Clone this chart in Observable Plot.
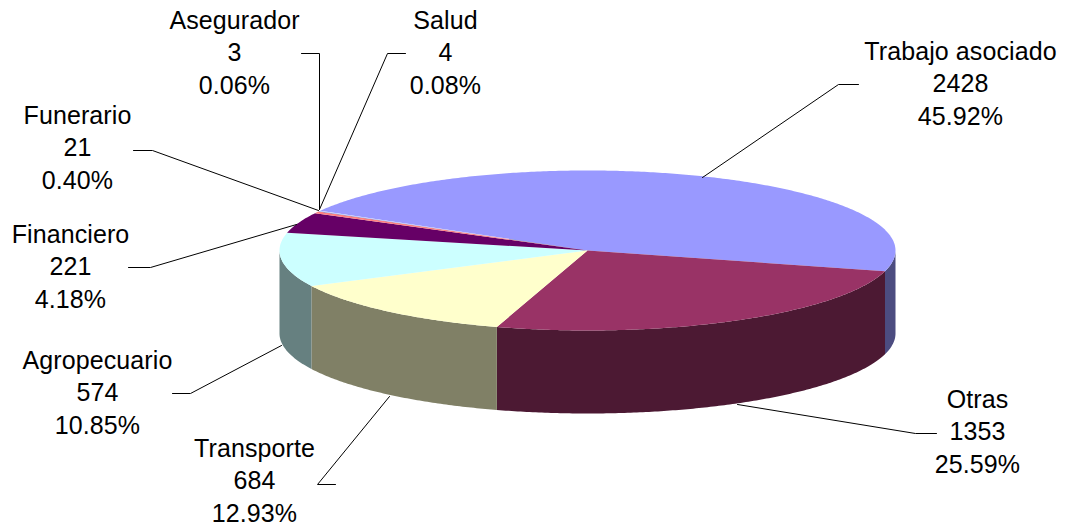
<!DOCTYPE html>
<html>
<head>
<meta charset="utf-8">
<script src="https://cdn.jsdelivr.net/npm/d3@7"></script>
<script src="https://cdn.jsdelivr.net/npm/@observablehq/plot@0.6"></script>
<style>
html,body{margin:0;padding:0;background:#fff}
svg{display:block}
svg text{letter-spacing:0.1px}
</style>
</head>
<body>
<div id="chart"></div>
<script>
const categories = ["Trabajo asociado","Otras","Transporte","Agropecuario","Financiero","Funerario","Asegurador","Salud"];
const values = [2428,1353,684,574,221,21,3,4];
const topColors = ["#9999FF","#993366","#FFFFCC","#CCFFFF","#660066","#FF8080","#0066CC","#CCCCFF"];
const sideColors = ["#4C4C80","#4C1933","#808066","#668080","#330033","#804040","#003366","#666680"];

// layout, in page units
const W = 1067, H = 527;
const cx = 587, cy = 250, rx = 308, ry = 80, depth = 83;
const firstEnd = 15 * Math.PI / 180; // clockwise end of the first slice
const labelX = [960,977,254,97,70,77,234,445];
const labelY = [81.5,429.5,478.5,390.5,264.5,145.5,50.5,50.5];
const leaders = [
  [[858,84],[838,84],[702,177]],
  [[936,433],[915,433],[737,404]],
  [[335,484],[317,484],[389,396]],
  [[172,393],[190,393],[281,345]],
  [[128,267],[150,267],[296,224]],
  [[133,150],[152,150],[318,210]],
  [[301,53],[319,53],[319,209]],
  [[405,53],[387,53],[319,209]]
];

const total = d3.sum(values);
const sweep = values.map(v => v / total * 2 * Math.PI);
let cursor = firstEnd - sweep[0];
const slices = categories.map((name, i) => {
  const a0 = cursor, a1 = cursor + sweep[i];
  cursor = a1;
  return {name, value: values[i], a0, a1, top: topColors[i], side: sideColors[i]};
});
const rim = (a, dy = 0) => ({x: cx + rx * Math.cos(a), y: cy + ry * Math.sin(a) + dy});
const arc = (a0, a1, dy = 0) => {
  const n = Math.max(2, Math.ceil((a1 - a0) / 0.01));
  return d3.range(n + 1).map(k => rim(a0 + (a1 - a0) * k / n, dy));
};
const wedge = s => [{x: cx, y: cy}, ...arc(s.a0, s.a1)];
const wall = s => {
  // the part of the rim that faces the viewer: sin(a) >= 0
  const turns = Math.floor(s.a0 / (2 * Math.PI));
  const lo = Math.max(s.a0, turns * 2 * Math.PI);
  const hi = Math.min(s.a1, turns * 2 * Math.PI + Math.PI);
  const parts = [];
  if (hi > lo) parts.push([lo, hi]);
  const lo2 = Math.max(s.a0, (turns + 1) * 2 * Math.PI);
  const hi2 = Math.min(s.a1, (turns + 1) * 2 * Math.PI + Math.PI);
  if (hi2 > lo2) parts.push([lo2, hi2]);
  return parts.map(([a, b]) => [...arc(a, b), ...arc(a, b, depth).reverse()]);
};

const xy = {x: "x", y: "y"};
const marks = [];
slices.forEach(s => wall(s).forEach(p => marks.push(Plot.line(p, {...xy, fill: s.side, stroke: "none"}))));
slices.forEach(s => marks.push(Plot.line(wedge(s), {...xy, fill: s.top, stroke: "none"})));
leaders.forEach(l => marks.push(Plot.line(l.map(([x, y]) => ({x, y})), {...xy, stroke: "#000", strokeWidth: 1})));
marks.push(Plot.text(slices.map((s, i) => ({
  x: labelX[i], y: labelY[i],
  t: `${s.name}\n${s.value}\n${(s.value / total * 100).toFixed(2)}%`
})), {...xy, text: "t", fill: "#000", fontSize: 25, lineHeight: 1.31, textAnchor: "middle"}));

const svg = Plot.plot({
  width: W, height: H,
  margin: 0,
  x: {domain: [0, W], range: [0, W], axis: null},
  y: {domain: [0, H], range: [0, H], axis: null},
  style: {background: "#fff", fontFamily: "'Liberation Sans', Arial, sans-serif", overflow: "visible"},
  marks
});
document.getElementById("chart").append(svg);
</script>
</body>
</html>
